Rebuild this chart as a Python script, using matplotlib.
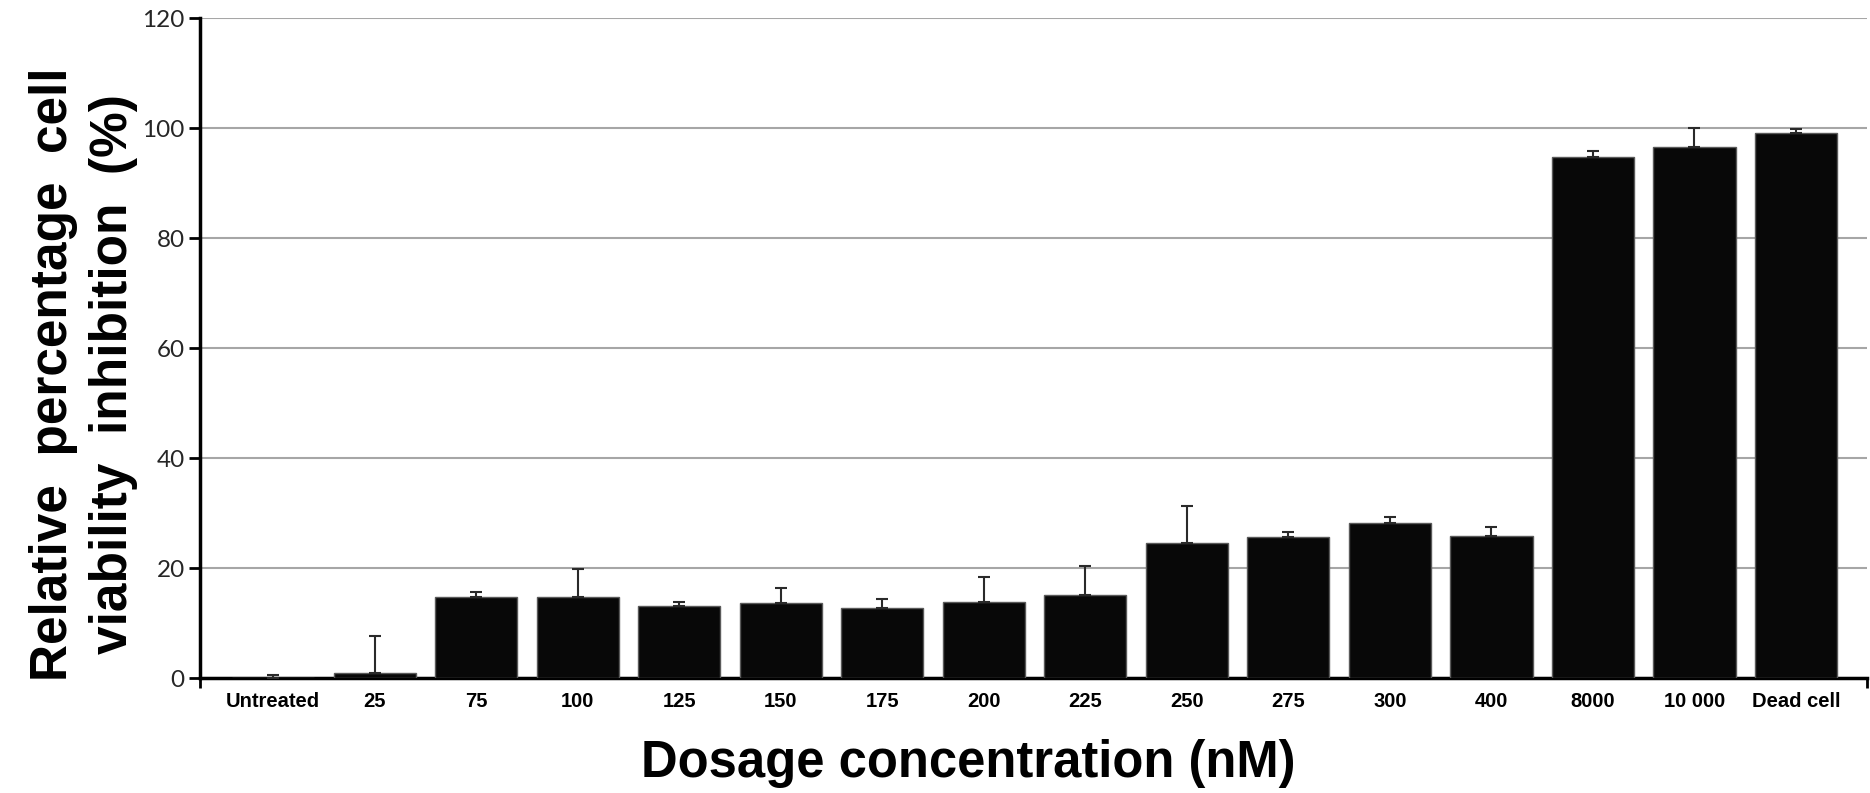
import matplotlib
matplotlib.use("Agg")
import matplotlib.pyplot as plt
from matplotlib import font_manager as fm
import numpy as np

categories = ["Untreated", "25", "75", "100", "125", "150", "175", "200", "225",
              "250", "275", "300", "400", "8000", "10 000", "Dead cell"]
values = [0.0, 1.0, 14.7, 14.7, 13.1, 13.7, 12.8, 13.9, 15.1,
          24.6, 25.6, 28.2, 25.9, 94.7, 96.6, 99.1]
errors = [0.5, 6.7, 0.9, 5.1, 0.7, 2.7, 1.5, 4.4, 5.3,
          6.7, 0.9, 1.0, 1.5, 1.2, 3.4, 0.7]
yticks = [0, 20, 40, 60, 80, 100, 120]

names = {f.name for f in fm.fontManager.ttflist}
tickfont = "Lato" if "Lato" in names else "DejaVu Sans"
bold = "Liberation Sans"

fig = plt.figure(figsize=(18.7, 7.93), dpi=100)
ax = fig.add_axes([0.1070, 0.1450, 0.8914, 0.8323])

x = np.arange(len(categories))
ax.bar(x, values, width=0.81, color="#080808", edgecolor="#5a5a5a",
       linewidth=1.0, zorder=3)
ax.errorbar(x, values, yerr=[np.zeros(len(errors)), errors], fmt="none",
            ecolor="#2a2a2a", elinewidth=1.5, capsize=4.5, capthick=1.5, zorder=4)

ax.set_ylim(0, 120)
ax.set_xlim(-0.72, 15.70)
ax.set_yticks(yticks)
ax.set_yticklabels([str(t) for t in yticks], fontsize=17.5, family=tickfont, color="#262626")
ax.yaxis.grid(True, color="#a6a6a6", linewidth=1.5, zorder=0)
ax.set_axisbelow(True)

ax.set_xticks(x)
ax.set_xticklabels(categories, fontsize=14.5, fontweight="bold", family=bold)
ax.tick_params(axis="x", length=0, pad=10)
ax.set_xticks([-0.72, 15.70], minor=True)
ax.tick_params(axis="x", which="minor", length=7, width=2, direction="out")
ax.tick_params(axis="y", length=8, width=2, direction="out", pad=3)

for s in ["top", "right"]:
    ax.spines[s].set_visible(False)
for s in ["left", "bottom"]:
    ax.spines[s].set_linewidth(2.5)
    ax.spines[s].set_color("black")

ax.set_xlabel("Dosage concentration (nM)", fontsize=36.5, fontweight="bold",
              family=bold)
ax.xaxis.set_label_coords(0.461, -0.092)
ax.set_ylabel("Relative  percentage  cell\nviability  inhibition  (%)", fontsize=37,
              fontweight="bold", family=bold, linespacing=1.3)
ax.yaxis.label.set_va("center")
ax.yaxis.set_label_coords(-0.070, 0.46)

fig.savefig("out.png", dpi=100)
